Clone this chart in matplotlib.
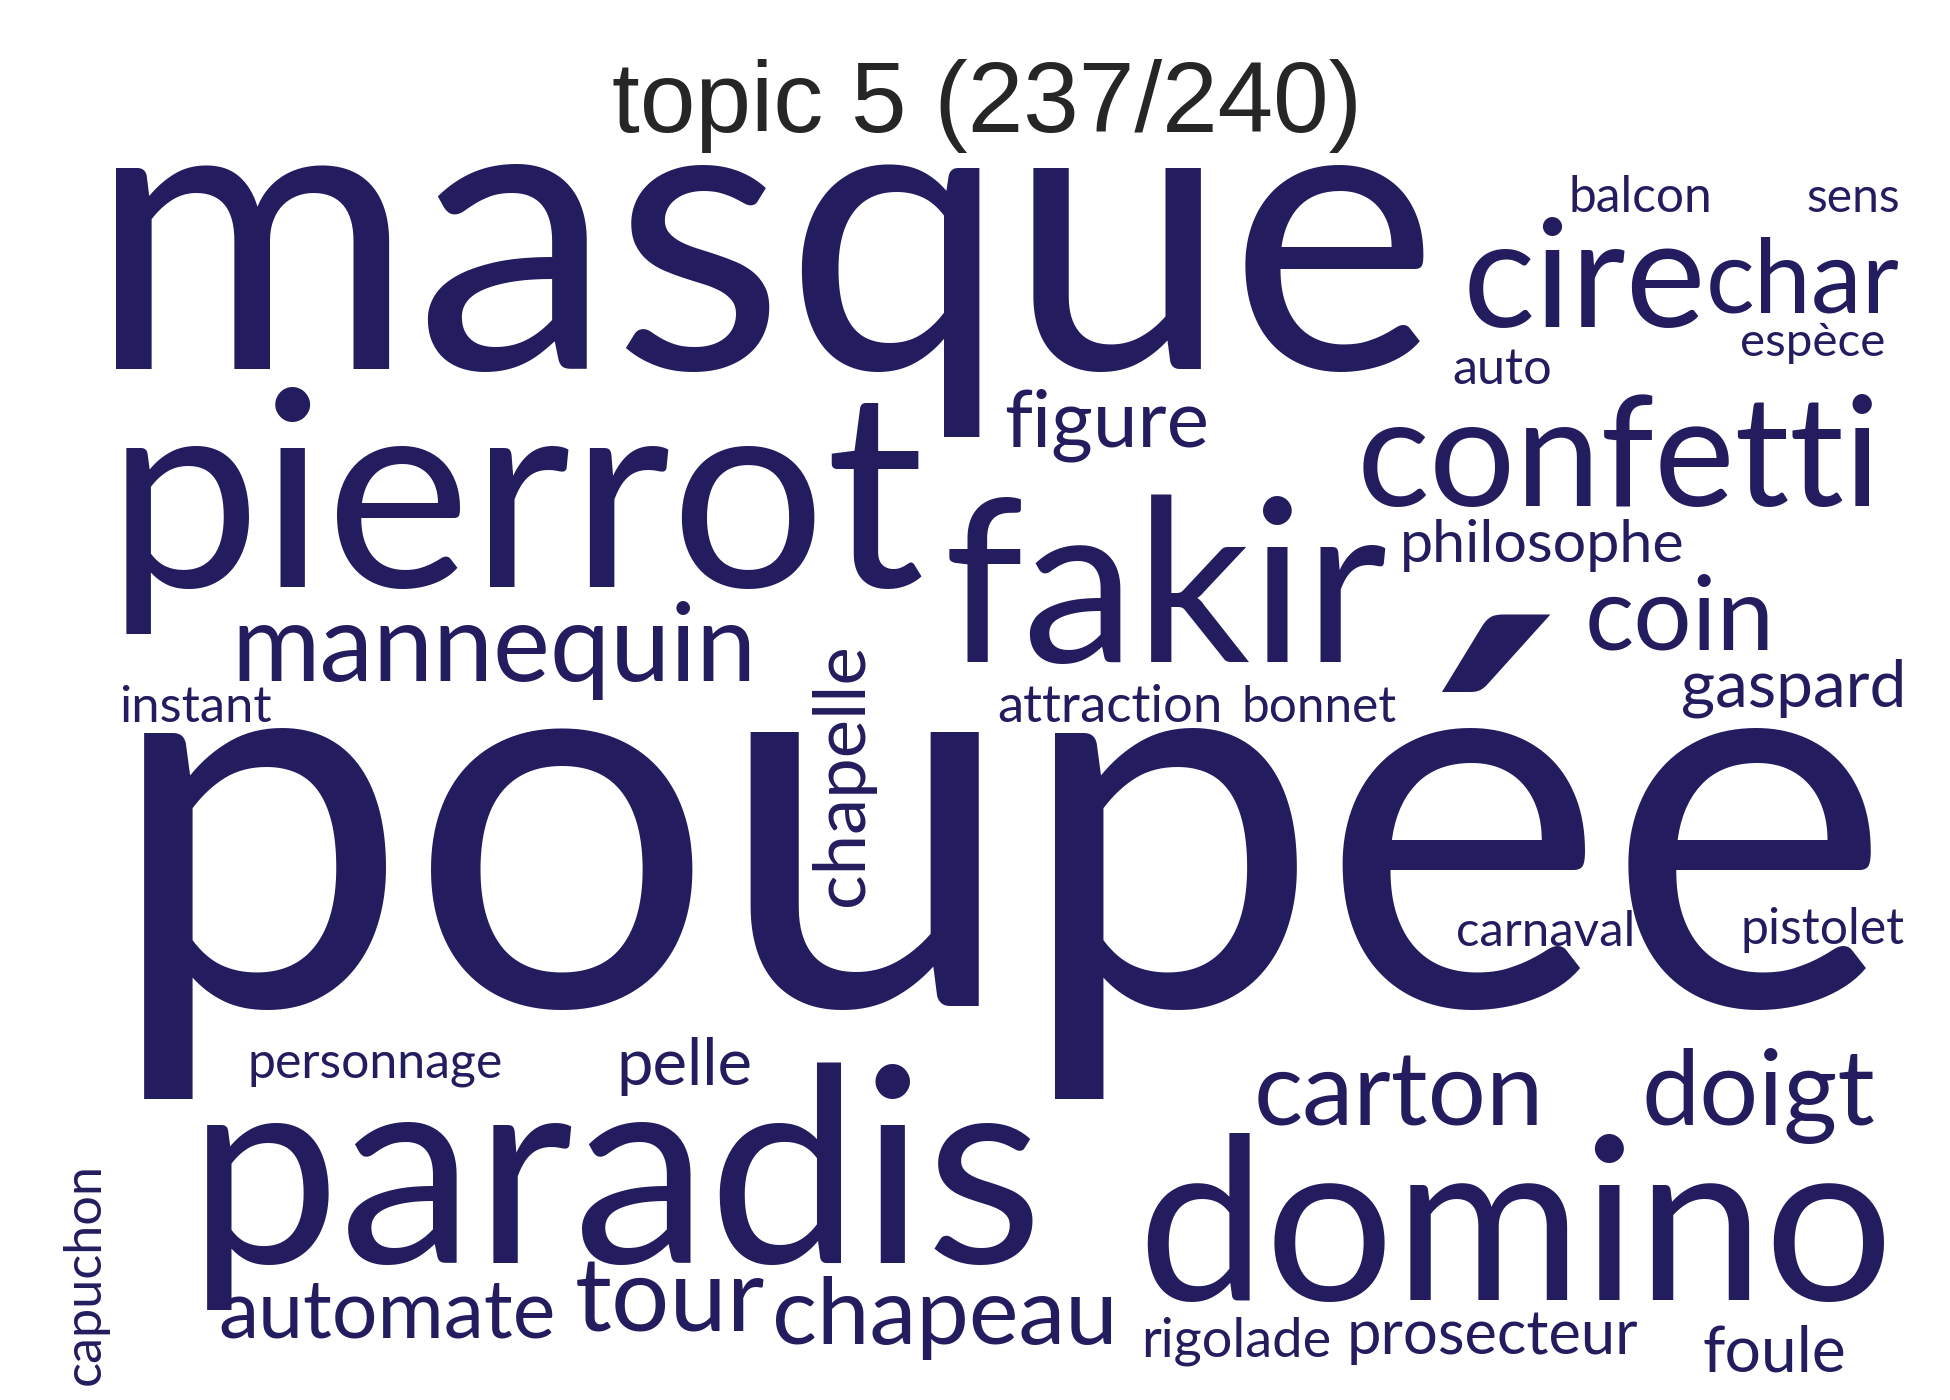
import matplotlib
matplotlib.use("Agg")
import matplotlib.pyplot as plt

# word cloud data: words and their layout boxes (left, right, baseline) in the
# 1560x1120 reference grid, rotation in degrees
title = "topic 5 (237/240)"
words = ["masque", "poupée", "pierrot", "paradis", "fakir", "domino", "confetti",
         "mannequin", "cire", "char", "carton", "doigt", "chapeau", "tour",
         "automate", "figure", "coin", "gaspard", "philosophe", "prosecteur",
         "chapelle", "pelle", "foule", "rigolade", "balcon", "sens", "espèce",
         "auto", "instant", "attraction", "bonnet", "carnaval", "pistolet",
         "personnage", "capuchon"]
lefts = [70, 85, 85, 150, 755, 910, 1085, 185, 1170, 1365, 1003, 1313, 618, 460,
         175, 803, 1268, 1345, 1120, 1077, 515, 493, 1362, 913, 1255, 1445, 1392,
         1162, 95, 798, 993, 1165, 1392, 198, 930]
rights = [1150, 1515, 740, 835, 1110, 1515, 1505, 605, 1365, 1520, 1235, 1500, 895,
          612, 445, 967, 1420, 1525, 1348, 1310, 725, 602, 1477, 1065, 1370, 1520,
          1508, 1242, 217, 978, 1117, 1308, 1523, 402, 1108]
bases = [295, 805, 470, 1010, 530, 1040, 405, 545, 262, 250, 900, 900, 1075, 1065,
         1070, 357, 520, 565, 450, 1083, 690, 868, 1097, 1085, 170, 170, 285,
         307, 578, 578, 578, 757, 755, 862, 80]
rotations = [0] * 20 + [90] + [0] * 13 + [90]

W, H = 1560, 1120
scale = 1950 / W
color = "#231d5f"

fig = plt.figure(figsize=(19.5, 14), dpi=100)
ax = fig.add_axes([0, 0, 1, 1])
ax.set_xlim(0, W)
ax.set_ylim(H, 0)
ax.axis("off")
renderer = fig.canvas.get_renderer()

for w, x0, x1, b, rot in zip(words, lefts, rights, bases, rotations):
    probe = ax.text(0, 0, w, fontsize=100, family="Lato")
    width = probe.get_window_extent(renderer).width
    probe.remove()
    fs = 100 * (x1 - x0) * scale / width
    if rot == 0:
        ax.text(x0, b, w, fontsize=fs, family="Lato", color=color,
                ha="left", va="baseline")
    else:
        # rotated words: lefts/rights hold the vertical span, bases the x of the baseline
        ax.text(b, (x0 + x1) / 2, w, fontsize=fs, family="Lato", color=color,
                rotation=90, ha="center", va="baseline", rotation_mode="anchor")

ax.text(790, 85, title, fontsize=72, family="Liberation Sans", color="#262626",
        ha="center", va="center")

fig.savefig("out.png", dpi=100, facecolor="white")
